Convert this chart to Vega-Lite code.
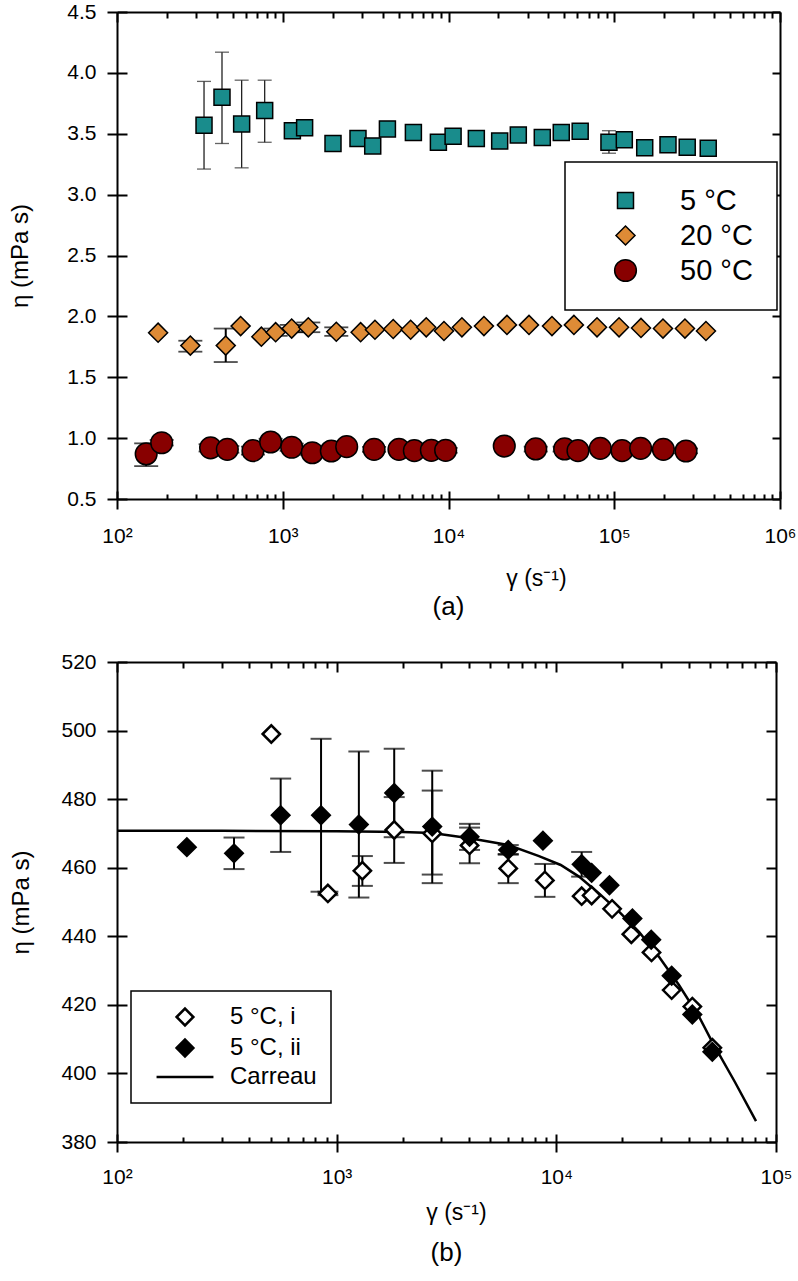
{
  "$schema": "https://vega.github.io/schema/vega-lite/v6.json",
  "background": "white",
  "padding": {"left": 8, "top": 1, "right": 5, "bottom": 5},
  "spacing": 163,
  "bounds": "flush",
  "resolve": {
    "scale": {"fill": "independent", "shape": "independent", "size": "independent", "x": "independent", "y": "independent"},
    "legend": {"fill": "independent", "shape": "independent", "size": "independent"}
  },
  "config": {
    "view": {"stroke": null},
    "axis": {"grid": false, "domainColor": "black", "domainWidth": 2, "tickColor": "black", "tickWidth": 2, "labelColor": "black", "titleColor": "black", "labelFont": "Liberation Sans Narrow, Liberation Sans, sans-serif", "titleFont": "Liberation Sans", "titleFontWeight": "normal", "labelFlush": false, "labelOverlap": false},
    "legend": {"labelColor": "black", "labelFont": "Liberation Sans", "strokeWidth": 1.5},
    "title": {"font": "Liberation Sans", "fontWeight": "normal", "color": "black"}
  },
  "datasets": {
    "top": [
      {"series": "5 °C", "gamma": 335, "eta": 3.57, "lo": 3.21, "hi": 3.93},
      {"series": "5 °C", "gamma": 430, "eta": 3.80, "lo": 3.42, "hi": 4.17},
      {"series": "5 °C", "gamma": 565, "eta": 3.58, "lo": 3.22, "hi": 3.94},
      {"series": "5 °C", "gamma": 778, "eta": 3.69, "lo": 3.43, "hi": 3.94},
      {"series": "5 °C", "gamma": 1143, "eta": 3.525},
      {"series": "5 °C", "gamma": 1355, "eta": 3.55},
      {"series": "5 °C", "gamma": 2010, "eta": 3.42},
      {"series": "5 °C", "gamma": 2844, "eta": 3.46},
      {"series": "5 °C", "gamma": 3490, "eta": 3.40},
      {"series": "5 °C", "gamma": 4280, "eta": 3.54},
      {"series": "5 °C", "gamma": 6140, "eta": 3.51},
      {"series": "5 °C", "gamma": 8690, "eta": 3.43},
      {"series": "5 °C", "gamma": 10660, "eta": 3.48},
      {"series": "5 °C", "gamma": 14720, "eta": 3.46},
      {"series": "5 °C", "gamma": 20360, "eta": 3.44},
      {"series": "5 °C", "gamma": 26370, "eta": 3.49},
      {"series": "5 °C", "gamma": 36800, "eta": 3.47},
      {"series": "5 °C", "gamma": 47900, "eta": 3.51},
      {"series": "5 °C", "gamma": 62300, "eta": 3.52},
      {"series": "5 °C", "gamma": 92900, "eta": 3.43, "lo": 3.34, "hi": 3.525},
      {"series": "5 °C", "gamma": 115000, "eta": 3.45},
      {"series": "5 °C", "gamma": 152700, "eta": 3.385},
      {"series": "5 °C", "gamma": 211000, "eta": 3.41},
      {"series": "5 °C", "gamma": 275600, "eta": 3.39},
      {"series": "5 °C", "gamma": 369000, "eta": 3.38},
      {"series": "20 °C", "gamma": 177, "eta": 1.866},
      {"series": "20 °C", "gamma": 277, "eta": 1.76, "lo": 1.71, "hi": 1.80},
      {"series": "20 °C", "gamma": 453, "eta": 1.76, "lo": 1.625, "hi": 1.90},
      {"series": "20 °C", "gamma": 557, "eta": 1.92},
      {"series": "20 °C", "gamma": 743, "eta": 1.833},
      {"series": "20 °C", "gamma": 906, "eta": 1.87, "lo": 1.84, "hi": 1.90},
      {"series": "20 °C", "gamma": 1132, "eta": 1.90, "lo": 1.87, "hi": 1.93},
      {"series": "20 °C", "gamma": 1426, "eta": 1.91, "lo": 1.87, "hi": 1.95},
      {"series": "20 °C", "gamma": 2104, "eta": 1.874, "lo": 1.84, "hi": 1.91},
      {"series": "20 °C", "gamma": 2950, "eta": 1.87},
      {"series": "20 °C", "gamma": 3600, "eta": 1.89},
      {"series": "20 °C", "gamma": 4640, "eta": 1.896},
      {"series": "20 °C", "gamma": 5910, "eta": 1.89},
      {"series": "20 °C", "gamma": 7340, "eta": 1.91},
      {"series": "20 °C", "gamma": 9390, "eta": 1.88},
      {"series": "20 °C", "gamma": 12050, "eta": 1.91},
      {"series": "20 °C", "gamma": 16360, "eta": 1.92},
      {"series": "20 °C", "gamma": 22530, "eta": 1.93},
      {"series": "20 °C", "gamma": 30600, "eta": 1.93},
      {"series": "20 °C", "gamma": 42100, "eta": 1.92},
      {"series": "20 °C", "gamma": 57100, "eta": 1.93},
      {"series": "20 °C", "gamma": 78700, "eta": 1.91},
      {"series": "20 °C", "gamma": 106900, "eta": 1.91},
      {"series": "20 °C", "gamma": 145000, "eta": 1.905},
      {"series": "20 °C", "gamma": 196800, "eta": 1.90},
      {"series": "20 °C", "gamma": 267000, "eta": 1.90},
      {"series": "20 °C", "gamma": 357500, "eta": 1.88},
      {"series": "50 °C", "gamma": 150, "eta": 0.87, "lo": 0.77, "hi": 0.957},
      {"series": "50 °C", "gamma": 186, "eta": 0.962, "lo": 0.94, "hi": 0.985},
      {"series": "50 °C", "gamma": 367, "eta": 0.92, "lo": 0.89, "hi": 0.95},
      {"series": "50 °C", "gamma": 463, "eta": 0.908, "lo": 0.88, "hi": 0.935},
      {"series": "50 °C", "gamma": 661, "eta": 0.897, "lo": 0.865, "hi": 0.93},
      {"series": "50 °C", "gamma": 845, "eta": 0.968, "lo": 0.94, "hi": 0.995},
      {"series": "50 °C", "gamma": 1132, "eta": 0.925, "lo": 0.895, "hi": 0.955},
      {"series": "50 °C", "gamma": 1507, "eta": 0.88, "lo": 0.86, "hi": 0.9},
      {"series": "50 °C", "gamma": 1963, "eta": 0.894},
      {"series": "50 °C", "gamma": 2431, "eta": 0.93},
      {"series": "50 °C", "gamma": 3556, "eta": 0.908, "lo": 0.888, "hi": 0.928},
      {"series": "50 °C", "gamma": 5025, "eta": 0.908},
      {"series": "50 °C", "gamma": 6220, "eta": 0.897},
      {"series": "50 °C", "gamma": 7880, "eta": 0.90},
      {"series": "50 °C", "gamma": 9610, "eta": 0.90, "lo": 0.88, "hi": 0.92},
      {"series": "50 °C", "gamma": 21700, "eta": 0.935},
      {"series": "50 °C", "gamma": 33600, "eta": 0.911, "lo": 0.89, "hi": 0.93},
      {"series": "50 °C", "gamma": 50200, "eta": 0.911, "lo": 0.89, "hi": 0.93},
      {"series": "50 °C", "gamma": 60400, "eta": 0.897},
      {"series": "50 °C", "gamma": 82400, "eta": 0.916},
      {"series": "50 °C", "gamma": 111400, "eta": 0.897},
      {"series": "50 °C", "gamma": 144300, "eta": 0.916},
      {"series": "50 °C", "gamma": 197800, "eta": 0.908},
      {"series": "50 °C", "gamma": 270900, "eta": 0.894, "lo": 0.875, "hi": 0.915}
    ],
    "bottom": [
      {"series": "5 °C, i", "gamma": 504, "eta": 499},
      {"series": "5 °C, i", "gamma": 912, "eta": 452.5, "lo": 452, "hi": 453},
      {"series": "5 °C, i", "gamma": 1309, "eta": 459.1, "lo": 454.7, "hi": 463.4},
      {"series": "5 °C, i", "gamma": 1828, "eta": 471, "lo": 461.4, "hi": 480.6},
      {"series": "5 °C, i", "gamma": 2723, "eta": 470, "lo": 458, "hi": 482.5},
      {"series": "5 °C, i", "gamma": 4027, "eta": 466.5, "lo": 461.3, "hi": 471.7},
      {"series": "5 °C, i", "gamma": 6040, "eta": 459.8, "lo": 455.5, "hi": 464},
      {"series": "5 °C, i", "gamma": 8870, "eta": 456.3, "lo": 451.5, "hi": 461.1},
      {"series": "5 °C, i", "gamma": 13040, "eta": 451.7},
      {"series": "5 °C, i", "gamma": 14480, "eta": 451.9},
      {"series": "5 °C, i", "gamma": 17940, "eta": 448},
      {"series": "5 °C, i", "gamma": 21950, "eta": 440.6},
      {"series": "5 °C, i", "gamma": 27120, "eta": 435.3},
      {"series": "5 °C, i", "gamma": 33500, "eta": 424.3},
      {"series": "5 °C, i", "gamma": 41600, "eta": 419.5},
      {"series": "5 °C, i", "gamma": 51300, "eta": 407.5},
      {"series": "5 °C, ii", "gamma": 208, "eta": 466},
      {"series": "5 °C, ii", "gamma": 341, "eta": 464.2, "lo": 459.6, "hi": 468.8},
      {"series": "5 °C, ii", "gamma": 556, "eta": 475.3, "lo": 464.6, "hi": 486},
      {"series": "5 °C, ii", "gamma": 849, "eta": 475.3, "lo": 453, "hi": 497.6},
      {"series": "5 °C, ii", "gamma": 1262, "eta": 472.6, "lo": 451.3, "hi": 493.9},
      {"series": "5 °C, ii", "gamma": 1828, "eta": 481.8, "lo": 468.9, "hi": 494.7},
      {"series": "5 °C, ii", "gamma": 2723, "eta": 472, "lo": 455.5, "hi": 488.3},
      {"series": "5 °C, ii", "gamma": 4027, "eta": 469, "lo": 465.2, "hi": 472.8},
      {"series": "5 °C, ii", "gamma": 6040, "eta": 465.2, "lo": 463.8, "hi": 466.6},
      {"series": "5 °C, ii", "gamma": 8690, "eta": 467.9},
      {"series": "5 °C, ii", "gamma": 13040, "eta": 461, "lo": 457.4, "hi": 464.6},
      {"series": "5 °C, ii", "gamma": 14480, "eta": 458.5},
      {"series": "5 °C, ii", "gamma": 17450, "eta": 454.9},
      {"series": "5 °C, ii", "gamma": 22200, "eta": 445.2},
      {"series": "5 °C, ii", "gamma": 27040, "eta": 439},
      {"series": "5 °C, ii", "gamma": 33500, "eta": 428.5},
      {"series": "5 °C, ii", "gamma": 41600, "eta": 417.2},
      {"series": "5 °C, ii", "gamma": 51300, "eta": 406.3}
    ],
    "carreau": [
      {"gamma": 100, "eta": 470.8},
      {"gamma": 300, "eta": 470.8},
      {"gamma": 1000, "eta": 470.6},
      {"gamma": 2000, "eta": 470.4},
      {"gamma": 2723, "eta": 470.1},
      {"gamma": 4035, "eta": 468.6},
      {"gamma": 6040, "eta": 466.6},
      {"gamma": 8340, "eta": 463.4},
      {"gamma": 10470, "eta": 460.8},
      {"gamma": 12680, "eta": 457.4},
      {"gamma": 15640, "eta": 452.5},
      {"gamma": 19290, "eta": 447.2},
      {"gamma": 23780, "eta": 441.3},
      {"gamma": 29330, "eta": 434},
      {"gamma": 36160, "eta": 425.8},
      {"gamma": 44590, "eta": 416.6},
      {"gamma": 51140, "eta": 409.3},
      {"gamma": 65000, "eta": 397.5},
      {"gamma": 81100, "eta": 386.1}
    ]
  },
  "vconcat": [
    {
      "width": 663,
      "height": 487,
      "title": {"text": "(a)", "orient": "bottom", "anchor": "middle", "fontSize": 26, "offset": 4},
      "data": {"name": "top"},
      "resolve": {"axis": {"x": "independent", "y": "independent"}},
      "layer": [
        {
          "transform": [{"filter": "isValid(datum.lo) && datum.series != '5 °C'"}],
          "mark": {"type": "rule", "color": "black", "strokeWidth": 2},
          "encoding": {
            "x": {"field": "gamma", "type": "quantitative", "scale": {"type": "log", "domain": [100, 1000000], "nice": false},
              "axis": {"orient": "bottom", "values": [100, 1000, 10000, 100000, 1000000], "labelExpr": "datum.value == 100 ? '10²' : datum.value == 1000 ? '10³' : datum.value == 10000 ? '10⁴' : datum.value == 100000 ? '10⁵' : '10⁶'", "tickSize": 10, "labelPadding": 16, "labelFontSize": 21, "title": "γ (s⁻¹)", "titleFontSize": 23, "titlePadding": 21, "titleX": 419}},
            "y": {"field": "lo", "type": "quantitative", "scale": {"domain": [0.5, 4.5], "nice": false, "zero": false},
              "axis": {"orient": "left", "values": [0.5, 1, 1.5, 2, 2.5, 3, 3.5, 4, 4.5], "format": ".1f", "tickSize": 10, "labelPadding": 11, "labelFontSize": 21, "title": "η (mPa s)", "titleFontSize": 24, "titlePadding": 34}},
            "y2": {"field": "hi"}
          }
        },
        {
          "transform": [{"filter": "isValid(datum.lo) && datum.series == '5 °C'"}],
          "mark": {"type": "rule", "color": "#222222", "strokeWidth": 1.3},
          "encoding": {
            "x": {"field": "gamma", "type": "quantitative", "axis": null},
            "y": {"field": "lo", "type": "quantitative", "axis": null},
            "y2": {"field": "hi"}
          }
        },
        {
          "transform": [{"filter": "isValid(datum.lo) && datum.series != '5 °C'"}],
          "mark": {"type": "tick", "orient": "horizontal", "color": "black", "thickness": 1.8, "size": 24},
          "encoding": {
            "x": {"field": "gamma", "type": "quantitative",
              "axis": {"orient": "bottom", "values": [100, 200, 300, 400, 500, 600, 700, 800, 900, 1000, 2000, 3000, 4000, 5000, 6000, 7000, 8000, 9000, 10000, 20000, 30000, 40000, 50000, 60000, 70000, 80000, 90000, 100000, 200000, 300000, 400000, 500000, 600000, 700000, 800000, 900000, 1000000], "labels": false, "domain": false, "title": null, "tickSize": {"condition": {"test": "abs(log(datum.value)/LN10 - round(log(datum.value)/LN10)) < 0.001", "value": -8}, "value": -5}}},
            "y": {"field": "lo", "type": "quantitative",
              "axis": {"orient": "left", "values": [0.5, 1, 1.5, 2, 2.5, 3, 3.5, 4, 4.5], "labels": false, "domain": false, "title": null, "tickSize": -10}}
          }
        },
        {
          "transform": [{"filter": "isValid(datum.lo) && datum.series != '5 °C'"}],
          "mark": {"type": "tick", "orient": "horizontal", "color": "black", "thickness": 1.8, "size": 24},
          "encoding": {
            "x": {"field": "gamma", "type": "quantitative",
              "axis": {"orient": "top", "values": [100, 200, 300, 400, 500, 600, 700, 800, 900, 1000, 2000, 3000, 4000, 5000, 6000, 7000, 8000, 9000, 10000, 20000, 30000, 40000, 50000, 60000, 70000, 80000, 90000, 100000, 200000, 300000, 400000, 500000, 600000, 700000, 800000, 900000, 1000000], "labels": false, "domain": true, "title": null, "tickSize": {"condition": {"test": "abs(log(datum.value)/LN10 - round(log(datum.value)/LN10)) < 0.001", "value": -10}, "value": -6}}},
            "y": {"field": "hi", "type": "quantitative",
              "axis": {"orient": "right", "values": [0.5, 1, 1.5, 2, 2.5, 3, 3.5, 4, 4.5], "labels": false, "domain": true, "title": null, "tickSize": -8}}
          }
        },
        {
          "transform": [{"filter": "isValid(datum.lo) && datum.series == '5 °C'"}],
          "mark": {"type": "tick", "orient": "horizontal", "color": "#222222", "thickness": 1.3, "size": 14},
          "encoding": {
            "x": {"field": "gamma", "type": "quantitative", "axis": null},
            "y": {"field": "lo", "type": "quantitative", "axis": null}
          }
        },
        {
          "transform": [{"filter": "isValid(datum.lo) && datum.series == '5 °C'"}],
          "mark": {"type": "tick", "orient": "horizontal", "color": "#222222", "thickness": 1.3, "size": 14},
          "encoding": {
            "x": {"field": "gamma", "type": "quantitative", "axis": null},
            "y": {"field": "hi", "type": "quantitative", "axis": null}
          }
        },
        {
          "mark": {"type": "point", "filled": true, "stroke": "black", "strokeWidth": 1.5, "opacity": 1},
          "encoding": {
            "x": {"field": "gamma", "type": "quantitative", "axis": null},
            "y": {"field": "eta", "type": "quantitative", "axis": null},
            "fill": {"field": "series", "type": "nominal", "scale": {"domain": ["5 °C", "20 °C", "50 °C"], "range": ["#198c8c", "#de8b36", "#880000"]},
              "legend": {"title": null, "orient": "none", "legendX": 448, "legendY": 150, "labelFontSize": 29, "padding": 24, "symbolOffset": 22, "labelOffset": 40, "rowPadding": 5, "strokeColor": "black", "fillColor": "white", "symbolStrokeColor": "black", "symbolStrokeWidth": 1.5, "symbolOpacity": 1, "labelExpr": "datum.label == '5 °C' ? '\u2007' + datum.label : datum.label", "encode": {"symbols": {"update": {"stroke": {"value": "black"}, "strokeWidth": {"value": 1.5}}}}}},
            "shape": {"field": "series", "type": "nominal", "scale": {"domain": ["5 °C", "20 °C", "50 °C"], "range": ["square", "diamond", "circle"]},
              "legend": {"title": null, "orient": "none", "legendX": 448, "legendY": 150, "labelFontSize": 29, "padding": 24, "symbolOffset": 22, "labelOffset": 40, "rowPadding": 5, "strokeColor": "black", "fillColor": "white", "symbolStrokeColor": "black", "symbolStrokeWidth": 1.5, "symbolOpacity": 1, "labelExpr": "datum.label == '5 °C' ? '\u2007' + datum.label : datum.label", "encode": {"symbols": {"update": {"stroke": {"value": "black"}, "strokeWidth": {"value": 1.5}}}}}},
            "size": {"field": "series", "type": "nominal", "scale": {"domain": ["5 °C", "20 °C", "50 °C"], "range": [256, 470, 361]},
              "legend": {"title": null, "orient": "none", "legendX": 448, "legendY": 150, "labelFontSize": 29, "padding": 24, "symbolOffset": 22, "labelOffset": 40, "rowPadding": 5, "strokeColor": "black", "fillColor": "white", "symbolStrokeColor": "black", "symbolStrokeWidth": 1.5, "symbolOpacity": 1, "labelExpr": "datum.label == '5 °C' ? '\u2007' + datum.label : datum.label", "encode": {"symbols": {"update": {"stroke": {"value": "black"}, "strokeWidth": {"value": 1.5}}}}}}
          }
        }
      ]
    },
    {
      "width": 659,
      "height": 480,
      "title": {"text": "(b)", "orient": "bottom", "anchor": "middle", "fontSize": 26, "offset": 16},
      "data": {"name": "bottom"},
      "resolve": {"axis": {"x": "independent", "y": "independent"}},
      "layer": [
        {
          "transform": [{"filter": "isValid(datum.lo)"}],
          "mark": {"type": "rule", "color": "black", "strokeWidth": 2},
          "encoding": {
            "x": {"field": "gamma", "type": "quantitative", "scale": {"type": "log", "domain": [100, 100000], "nice": false},
              "axis": {"orient": "bottom", "values": [100, 1000, 10000, 100000], "labelExpr": "datum.value == 100 ? '10²' : datum.value == 1000 ? '10³' : datum.value == 10000 ? '10⁴' : '10⁵'", "tickSize": 10, "labelPadding": 14, "labelFontSize": 21, "title": "γ (s⁻¹)", "titleFontSize": 23, "titlePadding": 14, "titleX": 339}},
            "y": {"field": "lo", "type": "quantitative", "scale": {"domain": [380, 520], "nice": false, "zero": false},
              "axis": {"orient": "left", "values": [380, 400, 420, 440, 460, 480, 500, 520], "format": "d", "tickSize": 10, "labelPadding": 11, "labelFontSize": 21, "title": "η (mPa s)", "titleFontSize": 24, "titlePadding": 27}},
            "y2": {"field": "hi"}
          }
        },
        {
          "transform": [{"filter": "isValid(datum.lo)"}],
          "mark": {"type": "tick", "orient": "horizontal", "color": "black", "thickness": 2, "size": 21},
          "encoding": {
            "x": {"field": "gamma", "type": "quantitative",
              "axis": {"orient": "bottom", "values": [100, 200, 300, 400, 500, 600, 700, 800, 900, 1000, 2000, 3000, 4000, 5000, 6000, 7000, 8000, 9000, 10000, 20000, 30000, 40000, 50000, 60000, 70000, 80000, 90000, 100000], "labels": false, "domain": false, "title": null, "tickSize": {"condition": {"test": "abs(log(datum.value)/LN10 - round(log(datum.value)/LN10)) < 0.001", "value": -8}, "value": -5}}},
            "y": {"field": "lo", "type": "quantitative",
              "axis": {"orient": "left", "values": [380, 400, 420, 440, 460, 480, 500, 520], "labels": false, "domain": false, "title": null, "tickSize": -10}}
          }
        },
        {
          "transform": [{"filter": "isValid(datum.lo)"}],
          "mark": {"type": "tick", "orient": "horizontal", "color": "black", "thickness": 2, "size": 21},
          "encoding": {
            "x": {"field": "gamma", "type": "quantitative",
              "axis": {"orient": "top", "values": [100, 200, 300, 400, 500, 600, 700, 800, 900, 1000, 2000, 3000, 4000, 5000, 6000, 7000, 8000, 9000, 10000, 20000, 30000, 40000, 50000, 60000, 70000, 80000, 90000, 100000], "labels": false, "domain": true, "title": null, "tickSize": {"condition": {"test": "abs(log(datum.value)/LN10 - round(log(datum.value)/LN10)) < 0.001", "value": -10}, "value": -6}}},
            "y": {"field": "hi", "type": "quantitative",
              "axis": {"orient": "right", "values": [380, 400, 420, 440, 460, 480, 500, 520], "labels": false, "domain": true, "title": null, "tickSize": -10}}
          }
        },
        {
          "data": {"name": "carreau"},
          "mark": {"type": "line", "color": "black", "strokeWidth": 2.5},
          "encoding": {
            "x": {"field": "gamma", "type": "quantitative", "axis": null},
            "y": {"field": "eta", "type": "quantitative", "axis": null}
          }
        },
        {
          "mark": {"type": "point", "filled": true, "size": 300, "stroke": "black", "strokeWidth": 2.5, "opacity": 1},
          "encoding": {
            "x": {"field": "gamma", "type": "quantitative", "axis": null},
            "y": {"field": "eta", "type": "quantitative", "axis": null},
            "fill": {"field": "series", "type": "nominal", "scale": {"domain": ["5 °C, i", "5 °C, ii", "Carreau"], "range": ["white", "black", "transparent"]},
              "legend": {"title": null, "orient": "none", "legendX": 14, "legendY": 329, "labelFontSize": 24, "padding": 14, "symbolOffset": 28, "labelOffset": 33, "rowPadding": 3, "symbolSize": 280, "strokeColor": "black", "fillColor": "white", "symbolStrokeColor": "black", "symbolStrokeWidth": 2.5, "symbolOpacity": 1, "encode": {"symbols": {"update": {"stroke": {"value": "black"}, "strokeWidth": {"value": 2.5}}}}}},
            "shape": {"field": "series", "type": "nominal", "scale": {"domain": ["5 °C, i", "5 °C, ii", "Carreau"], "range": ["diamond", "diamond", "M-3.4,0L3.4,0"]},
              "legend": {"title": null, "orient": "none", "legendX": 14, "legendY": 329, "labelFontSize": 24, "padding": 14, "symbolOffset": 28, "labelOffset": 33, "rowPadding": 3, "symbolSize": 280, "strokeColor": "black", "fillColor": "white", "symbolStrokeColor": "black", "symbolStrokeWidth": 2.5, "symbolOpacity": 1, "encode": {"symbols": {"update": {"stroke": {"value": "black"}, "strokeWidth": {"value": 2.5}}}}}}
          }
        }
      ]
    }
  ]
}
